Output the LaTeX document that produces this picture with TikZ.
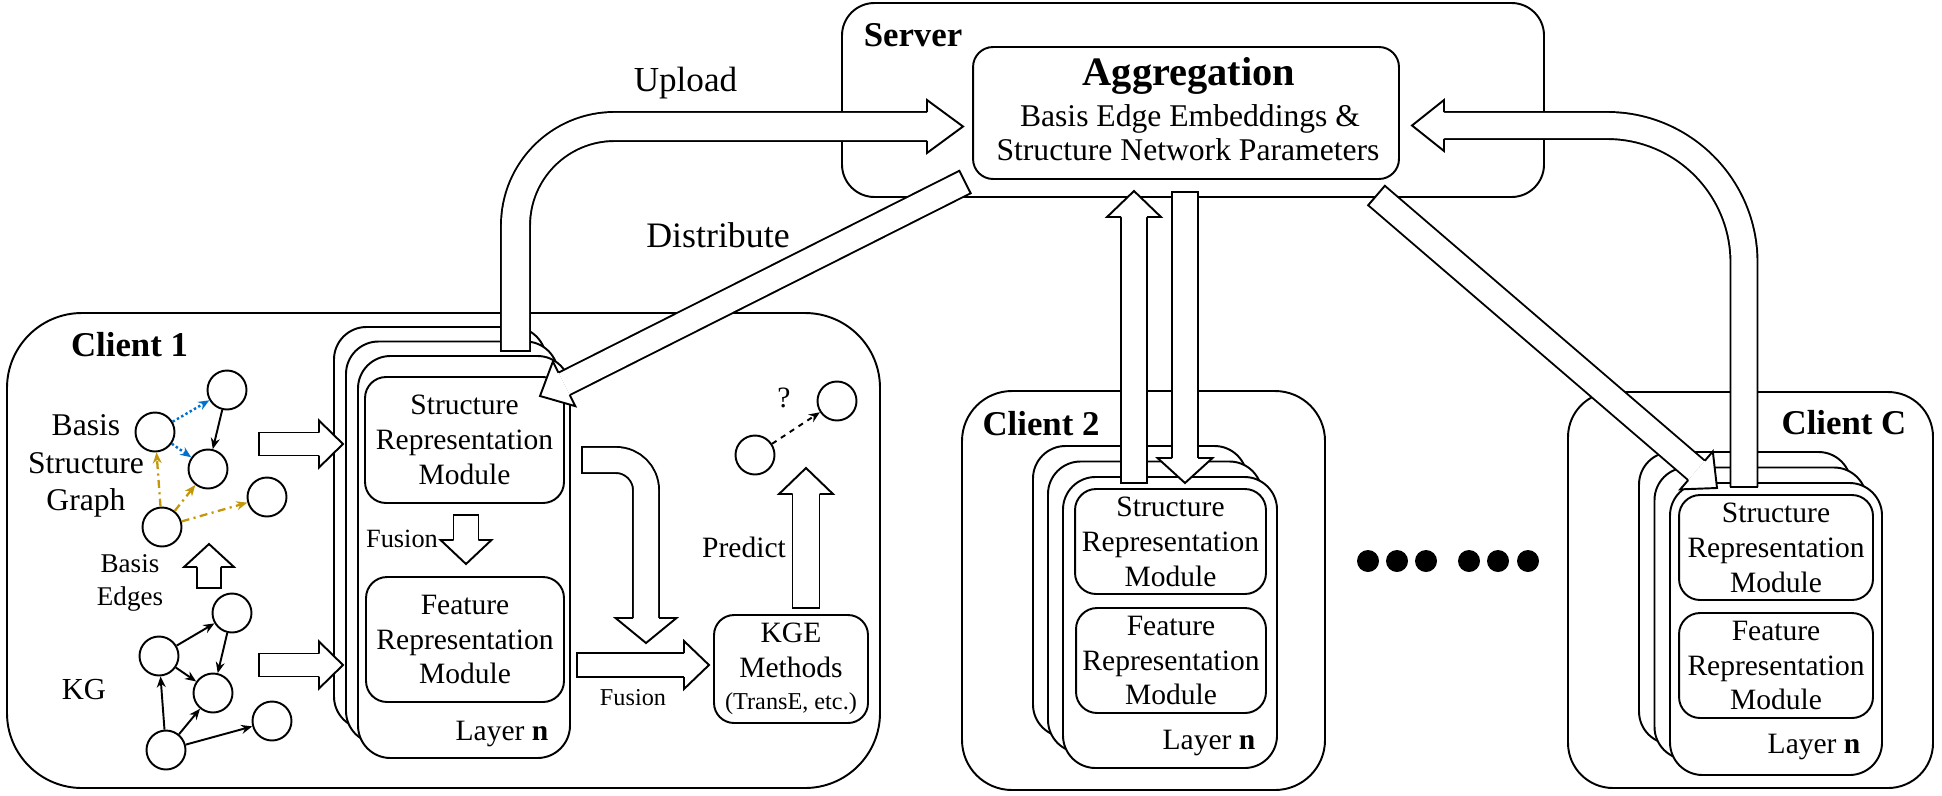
\documentclass[tikz,border=0pt]{standalone}
\usepackage{fontspec}
\setmainfont{Liberation Serif}
\usetikzlibrary{arrows.meta}
\usetikzlibrary{calc}
\tikzset{>={Stealth[length=0.22cm,width=0.18cm]}}
\definecolor{basisblue}{RGB}{0,114,206}
\definecolor{basisgold}{RGB}{196,150,10}
\newcommand\modfont{\fontsize{16.8}{19.9}\selectfont}
\newcommand\titlefont{\fontsize{19.8}{24}\selectfont\bfseries}
\tikzstyle{outline}=[draw=black,line width=1.1pt]
\tikzstyle{layerbox}=[outline,fill=white,rounded corners=0.65cm]
\tikzstyle{modbox}=[outline,fill=white,rounded corners=0.42cm,inner sep=0pt,align=center,font=\modfont]
\tikzstyle{ent}=[circle,draw,line width=1.1pt,minimum size=0.78cm,inner sep=0pt]
\tikzstyle{kgedge}=[line width=1.1pt,->]
\tikzstyle{blueedge}=[kgedge,draw=basisblue,line width=1.4pt,dash pattern=on 1.4pt off 1.4pt]
\tikzstyle{goldedge}=[kgedge,draw=basisgold,line width=1.3pt,dash pattern=on 4.5pt off 2.5pt on 1.2pt off 2.5pt]
% block arrows: shaft, head, tail cap (sizes in px)
\newcommand\fatshaft[3][]{%
  \pgfmathsetlengthmacro\fatgap{#2*0.02cm-1.1pt}%
  \draw[line width=1.1pt,double=white,double distance=\fatgap,#1] #3;}
\newcommand\fathead[4]{%
  \draw[outline,fill=white] ($(#1)!#3*0.01cm!90:(#2)$) -- ($(#1)!#4*0.01cm!90:(#2)$) -- (#2)
    -- ($(#1)!#4*0.01cm!-90:(#2)$) -- ($(#1)!#3*0.01cm!-90:(#2)$);}
\newcommand\fattail[3]{%
  \draw[outline,line cap=rect] ($(#1)!#3*0.01cm!90:(#2)$) -- ($(#1)!#3*0.01cm!-90:(#2)$);}
\newcommand\fatarrow[5]{%
  \coordinate (fa-b) at ($(#2)!#5*0.02cm!(#1)$);
  \fatshaft{#3}{(#1) -- (fa-b)}
  \fathead{fa-b}{#2}{#3}{#4}
  \fattail{#1}{#2}{#3}}

\begin{document}
\begin{tikzpicture}[x=0.02cm,y=-0.02cm]
  \useasboundingbox (0,0) rectangle (1942,795);

  % server
  \draw[outline,rounded corners=0.65cm] (842,3) rectangle (1544,197);
  \node[anchor=base,font=\titlefont] (server) at (913,46) {Server};
  \node[outline,rounded corners=0.4cm,minimum width=8.52cm,minimum height=2.64cm] (agg) at (1186,113) {};
  \node[anchor=base,font=\fontsize{23}{27}\selectfont\bfseries] (aggtitle) at (1189,85) {Aggregation};
  \node[anchor=base,font=\fontsize{18}{21}\selectfont] (aggline1) at (1190,126) {Basis Edge Embeddings \&};
  \node[anchor=base,font=\fontsize{18}{21}\selectfont] (aggline2) at (1188,160) {Structure Network Parameters};

  % client 1
  \draw[outline,rounded corners=1.5cm] (7,313) rectangle (880,788);
  \node[anchor=base,font=\titlefont] (c1title) at (129.5,356) {Client 1};
  \draw[layerbox] (334,327) rectangle (546,729);
  \draw[layerbox] (346,341.5) rectangle (558,743.5);
  \draw[layerbox] (358,356) rectangle (570,758);
  \node[modbox,minimum width=3.98cm,minimum height=2.52cm] (c1struct) at (464.5,440) {Structure\\Representation\\Module};
  \node[modbox,minimum width=3.96cm,minimum height=2.5cm] (c1feat) at (465,639.5) {Feature\\Representation\\Module};
  \node[anchor=base,font=\modfont] (c1layer) at (502,740) {Layer \textbf{n}};
  \node[anchor=base,font=\fontsize{15}{18}\selectfont] (fusion1) at (402,547) {Fusion};
  \node[anchor=base,font=\fontsize{13.8}{16}\selectfont] (fusion2) at (633,705) {Fusion};
  \node[modbox,minimum width=3.08cm,minimum height=2.16cm,rounded corners=0.4cm] (kge) at (791,669)
    {KGE\\Methods\\[-1.5pt]{\fontsize{13.8}{16}\selectfont(TransE, etc.)}};
  \node[anchor=base,font=\modfont] (predict) at (744,557) {Predict};

  % graphs
  \node[align=center,font=\fontsize{18}{21.3}\selectfont] (bsglabel) at (86,466) {Basis\\Structure\\Graph};
  \node[align=center,font=\fontsize{15.4}{18.8}\selectfont] (belabel) at (130,583) {Basis\\Edges};
  \node[anchor=base,font=\fontsize{17.4}{20}\selectfont] (kglabel) at (84,699) {KG};

  \node[ent] (bs1) at (155,432) {};
  \node[ent] (bs2) at (227,390) {};
  \node[ent] (bs3) at (208,469) {};
  \node[ent] (bs4) at (267,497) {};
  \node[ent] (bs5) at (162,527) {};
  \draw[blueedge] (bs1) -- (bs2);
  \draw[blueedge] (bs1) -- (bs3);
  \draw[kgedge] (bs2) -- (bs3);
  \draw[goldedge] (bs5) -- (bs1);
  \draw[goldedge] (bs5) -- (bs3);
  \draw[goldedge] (bs5) -- (bs4);

  \node[ent] (kg1) at (232,613) {};
  \node[ent] (kg2) at (159,656) {};
  \node[ent] (kg3) at (213,693) {};
  \node[ent] (kg4) at (272,721) {};
  \node[ent] (kg5) at (166,750) {};
  \draw[kgedge] (kg2) -- (kg1);
  \draw[kgedge] (kg1) -- (kg3);
  \draw[kgedge] (kg2) -- (kg3);
  \draw[kgedge] (kg5) -- (kg2);
  \draw[kgedge] (kg5) -- (kg3);
  \draw[kgedge] (kg5) -- (kg4);

  \node[ent] (q1) at (755,455) {};
  \node[ent] (q2) at (837,401) {};
  \draw[kgedge,dashed] (q1) -- (q2);
  \node[anchor=base,font=\modfont] (qmark) at (784,407) {?};

  % client 2
  \draw[outline,rounded corners=1.0cm] (962,391) rectangle (1325,790);
  \node[anchor=base,font=\titlefont] (c2title) at (1041,435) {Client 2};
  \draw[layerbox] (1033,446) rectangle (1247,737);
  \draw[layerbox] (1048,461.5) rectangle (1262,752.5);
  \draw[layerbox] (1063,477) rectangle (1277,768);
  \node[modbox,minimum width=3.82cm,minimum height=2.1cm] (c2struct) at (1170.5,541.5) {Structure\\Representation\\Module};
  \node[modbox,minimum width=3.8cm,minimum height=2.1cm] (c2feat) at (1171,660.5) {Feature\\Representation\\Module};
  \node[anchor=base,font=\modfont] (c2layer) at (1209,749) {Layer \textbf{n}};

  % client C
  \draw[outline,rounded corners=0.9cm] (1568,392) rectangle (1933,788);
  \node[anchor=base,font=\titlefont] (cCtitle) at (1844,434) {Client C};
  \draw[layerbox] (1639,452) rectangle (1851,744);
  \draw[layerbox] (1654.5,467.5) rectangle (1866.5,759.5);
  \draw[layerbox] (1670,483) rectangle (1882,775);
  \node[modbox,minimum width=3.88cm,minimum height=2.1cm] (cCstruct) at (1776,547.5) {Structure\\Representation\\Module};
  \node[modbox,minimum width=3.88cm,minimum height=2.1cm] (cCfeat) at (1776,665.5) {Feature\\Representation\\Module};
  \node[anchor=base,font=\modfont] (cClayer) at (1814,753) {Layer \textbf{n}};

  % more clients
  \fill (1368,561) circle[radius=0.22cm];
  \fill (1397,561) circle[radius=0.22cm];
  \fill (1426,561) circle[radius=0.22cm];
  \fill (1469,561) circle[radius=0.22cm];
  \fill (1498,561) circle[radius=0.22cm];
  \fill (1528,561) circle[radius=0.22cm];

  % block arrows
  \coordinate (in1-t) at (259,444);
  \coordinate (in1-p) at (343,444);
  \coordinate (in2-t) at (259,665);
  \coordinate (in2-p) at (343,665);
  \coordinate (be-t) at (209,588);
  \coordinate (be-p) at (209,544);
  \coordinate (fu1-t) at (466,515);
  \coordinate (fu1-p) at (466,564);
  \coordinate (fu2-t) at (577,665);
  \coordinate (fu2-p) at (709,665);
  \coordinate (pr-t) at (806,608);
  \coordinate (pr-p) at (806,468);
  \coordinate (di-t) at (965,182);
  \coordinate (di-p) at (540,396);
  \coordinate (c2up-t) at (1134,483);
  \coordinate (c2up-p) at (1134,191);
  \coordinate (c2dn-t) at (1185,192);
  \coordinate (c2dn-p) at (1185,483);
  \coordinate (cCdn-t) at (1376.5,195.5);
  \coordinate (cCdn-p) at (1717,488);

  \fatarrow{in1-t}{in1-p}{23}{47}{24}
  \fatarrow{in2-t}{in2-p}{23}{47}{24}
  \fatarrow{be-t}{be-p}{24}{50}{23}
  \fatarrow{fu1-t}{fu1-p}{25}{51}{24}
  \fatarrow{fu2-t}{fu2-p}{24}{48}{25}
  \fatarrow{pr-t}{pr-p}{27}{54}{26}
  \fatarrow{di-t}{di-p}{25}{50}{27}
  \fatarrow{c2up-t}{c2up-p}{26}{54}{26}
  \fatarrow{c2dn-t}{c2dn-p}{26}{55}{25}
  \fatarrow{cCdn-t}{cCdn-p}{25.5}{50}{27}

  % curved ones
  \coordinate (up-t) at (515.5,351);
  \coordinate (up-c) at (515.5,126.5);
  \coordinate (up-b) at (927,126.5);
  \coordinate (up-p) at (963,126.5);
  \fatshaft[rounded corners=1.98cm]{29}{(up-t) -- (up-c) -- (up-b)}
  \fathead{up-b}{up-p}{29}{53}
  \fattail{up-t}{up-c}{29}

  \coordinate (mix-t) at (582,460);
  \coordinate (mix-c) at (646,460);
  \coordinate (mix-b) at (646,618);
  \coordinate (mix-p) at (646,643);
  \fatshaft[rounded corners=0.6cm]{26}{(mix-t) -- (mix-c) -- (mix-b)}
  \fathead{mix-b}{mix-p}{26}{61}
  \fattail{mix-t}{mix-c}{26}

  \coordinate (cCup-t) at (1744,487);
  \coordinate (cCup-c) at (1744,125.5);
  \coordinate (cCup-b) at (1444,125.5);
  \coordinate (cCup-p) at (1412,125.5);
  \fatshaft[rounded corners=2.74cm]{27}{(cCup-t) -- (cCup-c) -- (cCup-b)}
  \fathead{cCup-b}{cCup-p}{27}{51}
  \fattail{cCup-t}{cCup-c}{27}

  \node[anchor=base,font=\fontsize{20}{24}\selectfont] (upload) at (685.5,91) {Upload};
  \node[anchor=base,font=\fontsize{20.4}{24}\selectfont] (distribute) at (718,247) {Distribute};
\end{tikzpicture}
\end{document}
